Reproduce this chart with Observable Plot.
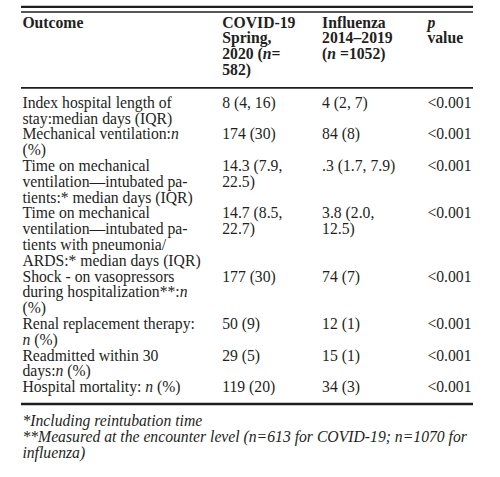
<!DOCTYPE html>
<html>
<head>
<meta charset="utf-8">
<script src="https://cdn.jsdelivr.net/npm/d3@7"></script>
<script src="https://cdn.jsdelivr.net/npm/@observablehq/plot@0.6"></script>
<style>
  html, body { margin: 0; padding: 0; background: #fff; }
  #chart svg { display: block; }
</style>
</head>
<body>
<div id="chart"></div>
<script>
// ---------- data (text of the table) ----------
// {x} marks an italic run inside a line
const columns = ["Outcome", "COVID", "Influenza", "p"];

const headOutcome = ["Outcome"];
const headCovid = ["COVID-19", "Spring,", "2020 ({n}=", "582)"];
const headFlu = ["Influenza", "2014–2019", "({n} =1052)"];
const headP = ["{p}", "value"];

const outcomes = [
  ["Index hospital length of", "stay:median days (IQR)"],
  ["Mechanical ventilation:{n}", "(%)"],
  ["Time on mechanical", "ventilation—intubated pa-", "tients:* median days (IQR)"],
  ["Time on mechanical", "ventilation—intubated pa-", "tients with pneumonia/", "ARDS:* median days (IQR)"],
  ["Shock - on vasopressors", "during hospitalization**:{n}", "(%)"],
  ["Renal replacement therapy:", "{n} (%)"],
  ["Readmitted within 30", "days:{n} (%)"],
  ["Hospital mortality: {n} (%)"]
];
const covidValues = [
  ["8 (4, 16)"], ["174 (30)"], ["14.3 (7.9,", "22.5)"], ["14.7 (8.5,", "22.7)"],
  ["177 (30)"], ["50 (9)"], ["29 (5)"], ["119 (20)"]
];
const fluValues = [
  ["4 (2, 7)"], ["84 (8)"], [".3 (1.7, 7.9)"], ["3.8 (2.0,", "12.5)"],
  ["74 (7)"], ["12 (1)"], ["15 (1)"], ["34 (3)"]
];
const pValues = ["<0.001", "<0.001", "<0.001", "<0.001", "<0.001", "<0.001", "<0.001", "<0.001"];

const footnotes = [
  "*Including reintubation time",
  "**Measured at the encounter level (n=613 for COVID-19; n=1070 for",
  "influenza)"
];

// ---------- layout (in table units: x = fraction of table width, y = text lines) ----------
const colStart = {Outcome: 0.002, COVID: 0.444, Influenza: 0.665, p: 0.898};
const bodyStart = 5.08;       // first body line, in lines below the first header line
const footStart = 25.25;
const footStep = 1.0;
const rules = [
  {y: -1.3, w: 2.2},
  {y: -0.98, w: 1.6},
  {y: 3.82, w: 1.8},
  {y: 23.83, w: 2.4}
];

// ---------- build cells ----------
const headCells = [];
[[ "Outcome", headOutcome], ["COVID", headCovid], ["Influenza", headFlu], ["p", headP]]
  .forEach(([col, lines]) => lines.forEach((t, i) => headCells.push({col, line: i, text: t})));

const bodyCells = [];
let cursor = 0;
outcomes.forEach((lines, r) => {
  const cols = [["Outcome", lines], ["COVID", covidValues[r]], ["Influenza", fluValues[r]], ["p", [pValues[r]]]];
  let n = 0;
  cols.forEach(([col, ls]) => {
    ls.forEach((t, i) => bodyCells.push({col, line: bodyStart + cursor + i, text: t}));
    n = Math.max(n, ls.length);
  });
  cursor += n;
});

const footCells = footnotes.map((t, i) => ({col: "Outcome", line: footStart + i * footStep, text: t}));

const font = "'Liberation Serif', 'Times New Roman', Times, serif";
const ink = "#231f20";

const chart = Plot.plot({
  width: 500,
  height: 477,
  margin: 0,
  x: {domain: [0, 1], range: [21, 473], axis: null},
  y: {domain: [0, 1], range: [27, 42.8], axis: null},
  style: {background: "#fff", fontFamily: font},
  marks: [
    Plot.ruleY(rules, {y: "y", x1: 0, x2: 1, stroke: "#1e1e1e", strokeWidth: "w"}),
    Plot.text(headCells, {x: d => colStart[d.col], y: "line", text: "text", textAnchor: "start",
      lineAnchor: "bottom", fontSize: 15.7, fontWeight: "bold", fill: ink, fontFamily: font}),
    Plot.text(bodyCells, {x: d => colStart[d.col], y: "line", text: "text", textAnchor: "start",
      lineAnchor: "bottom", fontSize: 15.7, fill: ink, fontFamily: font}),
    Plot.text(footCells, {x: d => colStart[d.col], y: "line", text: "text", textAnchor: "start",
      lineAnchor: "bottom", fontSize: 15.7, fontStyle: "italic", fill: ink, fontFamily: font})
  ]
});

// turn {..} runs into italic tspans
d3.select(chart).selectAll("text").each(function () {
  const s = this.textContent;
  if (!s.includes("{")) return;
  const parts = s.split(/(\{[^}]*\})/).filter(p => p !== "");
  this.textContent = "";
  parts.forEach(p => {
    const ts = document.createElementNS("http://www.w3.org/2000/svg", "tspan");
    if (p.startsWith("{")) { ts.textContent = p.slice(1, -1); ts.setAttribute("font-style", "italic"); }
    else ts.textContent = p;
    this.appendChild(ts);
  });
});

document.getElementById("chart").appendChild(chart);
</script>
</body>
</html>
